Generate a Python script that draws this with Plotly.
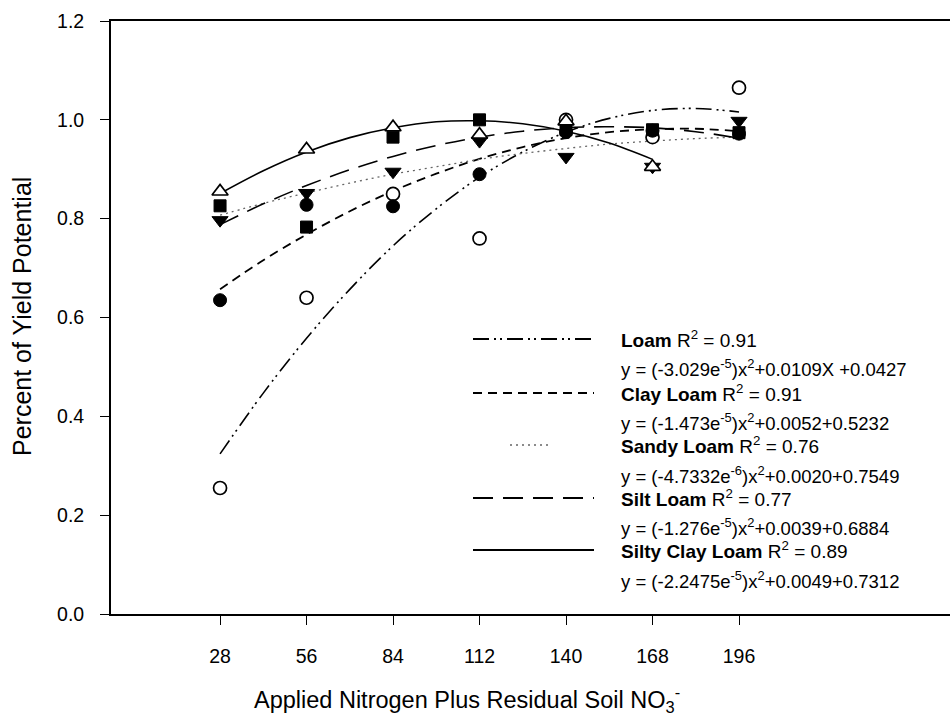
import plotly.graph_objects as go

# ---------------- data ----------------
x_points = [28, 56, 84, 112, 140, 168, 196]

loam_pts = [0.255, 0.64, 0.85, 0.76, 1.0, 0.965, 1.065]              # open circles
clay_loam_pts = [0.635, 0.828, 0.825, 0.89, 0.975, 0.978, 0.972]     # filled circles
sandy_loam_pts = [0.826, 0.783, 0.965, 1.0, 0.98, 0.98, 0.974]       # filled squares
silt_loam_pts = [0.797, 0.852, 0.895, 0.957, 0.925, 0.905, 0.998]    # filled triangles down
silty_clay_loam_pts = [0.855, 0.94, 0.985, 0.97, 0.997, 0.905]       # open triangles up

# fitted curves
x_curve = [28, 42, 56, 70, 84, 98, 112, 126, 140, 154, 168, 182, 196]
loam_curve = [0.324, 0.447, 0.558, 0.657, 0.745, 0.820, 0.884, 0.935, 0.975, 1.003, 1.019, 1.023, 1.016]
clay_loam_curve = [0.657, 0.716, 0.768, 0.815, 0.856, 0.891, 0.921, 0.945, 0.963, 0.975, 0.981, 0.982, 0.977]
sandy_loam_curve = [0.807, 0.831, 0.852, 0.872, 0.890, 0.905, 0.920, 0.932, 0.942, 0.951, 0.957, 0.962, 0.965]
silt_loam_curve = [0.788, 0.830, 0.867, 0.899, 0.926, 0.948, 0.965, 0.977, 0.984, 0.986, 0.984, 0.976, 0.963]
x_curve_scl = [28, 42, 56, 70, 84, 98, 112, 126, 140, 154, 168]
silty_clay_loam_curve = [0.851, 0.897, 0.935, 0.964, 0.984, 0.996, 0.998, 0.992, 0.977, 0.953, 0.920]

x_ticks = [28, 56, 84, 112, 140, 168, 196]
y_ticks = [0.0, 0.2, 0.4, 0.6, 0.8, 1.0, 1.2]

legend_names = ["Loam", "Clay Loam", "Sandy Loam", "Silt Loam", "Silty Clay Loam"]
legend_r2 = ["0.91", "0.91", "0.76", "0.77", "0.89"]
legend_eqs = [
    "y = (-3.029e<sup>-5</sup>)x<sup>2</sup>+0.0109X +0.0427",
    "y = (-1.473e<sup>-5</sup>)x<sup>2</sup>+0.0052+0.5232",
    "y = (-4.7332e<sup>-6</sup>)x<sup>2</sup>+0.0020+0.7549",
    "y = (-1.276e<sup>-5</sup>)x<sup>2</sup>+0.0039+0.6884",
    "y = (-2.2475e<sup>-5</sup>)x<sup>2</sup>+0.0049+0.7312",
]

# ---------------- styles ----------------
FONT = "Liberation Sans, Arial, sans-serif"
dash_loam = "16px,5px,2px,4px,2px,5px"
dash_clay = "9px,6px"
dash_sandy = "2px,4px"
dash_silt = "20px,10px"
dashes = [dash_loam, dash_clay, dash_sandy, dash_silt, "solid"]
line_colors = ["black", "black", "#666", "black", "black"]
line_widths = [1.6, 1.8, 1.3, 1.6, 1.6]

W, H = 950, 719
L, R, T, B = 111, 950, 21, 614

def px(xp):
    return (xp - L) / (R - L)

def py(yp):
    return (B - yp) / (B - T)

fig = go.Figure()

curves = [
    (x_curve, loam_curve),
    (x_curve, clay_loam_curve),
    (x_curve, sandy_loam_curve),
    (x_curve, silt_loam_curve),
    (x_curve_scl, silty_clay_loam_curve),
]
for i, (xc, yc) in enumerate(curves):
    fig.add_trace(go.Scatter(
        x=xc, y=yc, mode="lines", line_shape="spline",
        line=dict(color=line_colors[i], width=line_widths[i], dash=dashes[i]),
        showlegend=False, hoverinfo="skip"))

MS = 13
fig.add_trace(go.Scatter(x=x_points, y=loam_pts, mode="markers", showlegend=False,
                         marker=dict(symbol="circle", size=MS, color="white", line=dict(color="black", width=1.7))))
fig.add_trace(go.Scatter(x=x_points, y=clay_loam_pts, mode="markers", showlegend=False,
                         marker=dict(symbol="circle", size=MS, color="black", line=dict(color="black", width=1))))
fig.add_trace(go.Scatter(x=x_points, y=sandy_loam_pts, mode="markers", showlegend=False,
                         marker=dict(symbol="square", size=MS - 1, color="black", line=dict(color="black", width=1))))
fig.add_trace(go.Scatter(x=x_points, y=silt_loam_pts, mode="markers", showlegend=False,
                         marker=dict(symbol="triangle-down", size=MS + 1, color="black", line=dict(color="black", width=1))))
fig.add_trace(go.Scatter(x=x_points[:len(silty_clay_loam_pts)], y=silty_clay_loam_pts, mode="markers", showlegend=False,
                         marker=dict(symbol="triangle-up", size=MS + 1, color="white", line=dict(color="black", width=1.7))))

# ---------------- legend (drawn manually) ----------------
shapes = []
annotations = []
name_y = [339, 393, 445, 498, 550]
eq_y = [368, 422, 475, 527, 580]
for i in range(5):
    x0, x1 = 473, 594
    if i == 2:
        x0, x1 = 510, 548
    shapes.append(dict(type="line", xref="paper", yref="paper",
                       x0=px(x0), x1=px(x1), y0=py(name_y[i]), y1=py(name_y[i]),
                       line=dict(color=line_colors[i], width=line_widths[i] + 0.2, dash=dashes[i])))
    annotations.append(dict(xref="paper", yref="paper", x=px(619), y=py(name_y[i]),
                            xanchor="left", yanchor="middle", showarrow=False,
                            text="<b>%s</b> R<sup>2</sup> = %s" % (legend_names[i], legend_r2[i]),
                            font=dict(family=FONT, size=19, color="black")))
    annotations.append(dict(xref="paper", yref="paper", x=px(619), y=py(eq_y[i]),
                            xanchor="left", yanchor="middle", showarrow=False,
                            text=legend_eqs[i],
                            font=dict(family=FONT, size=18.5, color="black")))

# axis titles
annotations.append(dict(xref="paper", yref="paper", x=px(467), y=py(699),
                        xanchor="center", yanchor="middle", showarrow=False,
                        text="Applied Nitrogen Plus Residual Soil NO<sub>3</sub><sup>-</sup>",
                        font=dict(family=FONT, size=23.5, color="black")))
annotations.append(dict(xref="paper", yref="paper", x=px(22), y=py(317),
                        xanchor="center", yanchor="middle", showarrow=False, textangle=-90,
                        text="Percent of Yield Potential",
                        font=dict(family=FONT, size=25, color="black")))

fig.update_layout(
    width=W, height=H,
    margin=dict(l=L, r=W - R, t=T, b=H - B),
    paper_bgcolor="white", plot_bgcolor="white",
    shapes=shapes, annotations=annotations,
    xaxis=dict(range=[-7.3, 264.3], tickvals=x_ticks, ticktext=[str(v) for v in x_ticks],
               showgrid=False, zeroline=False, showline=True, mirror=True,
               linecolor="black", linewidth=1.8,
               ticks="outside", ticklen=9, tickwidth=1.3, tickcolor="black",
               ticklabelstandoff=15,
               tickfont=dict(family=FONT, size=19.5, color="black")),
    yaxis=dict(range=[0, 1.2], tickvals=y_ticks, ticktext=["%.1f" % v for v in y_ticks],
               showgrid=False, zeroline=False, showline=True, mirror=False,
               linecolor="black", linewidth=1.8,
               ticks="outside", ticklen=9, tickwidth=1.3, tickcolor="black",
               ticklabelstandoff=12,
               tickfont=dict(family=FONT, size=19.5, color="black")),
)

fig.write_html("out.html")
